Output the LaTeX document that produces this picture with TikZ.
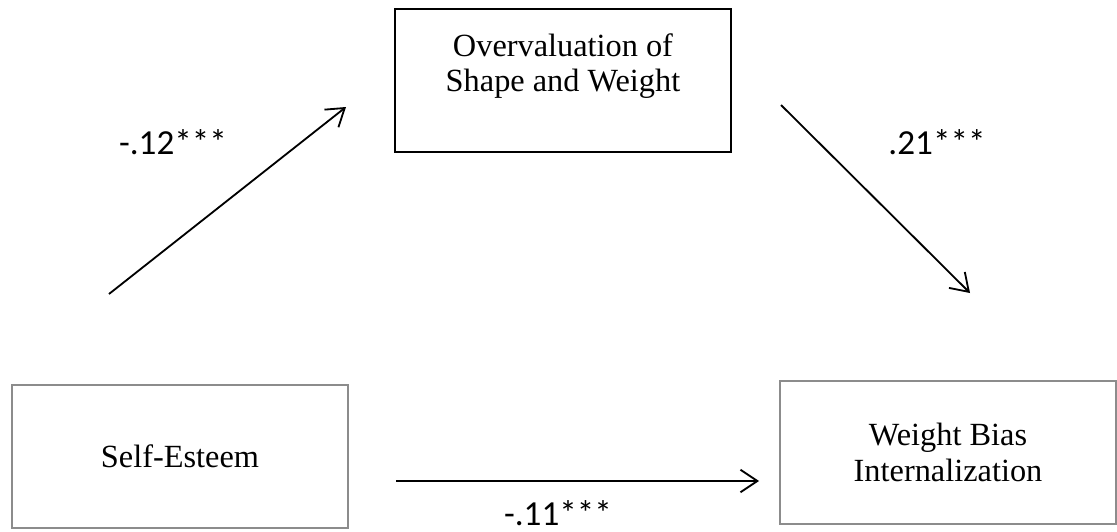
\documentclass[tikz,border=0pt]{standalone}
\usepackage{fontspec}
\setmainfont{Liberation Serif}
\newfontfamily\coeffont{Carlito}
\usetikzlibrary{arrows.meta,positioning}

\begin{document}
\begin{tikzpicture}[
        x=0.025cm, y=-0.025cm,
        >={Straight Barb[length=12pt,width=16pt]},
        every node/.style={align=center},
        var/.style={draw, minimum width=8.4cm, minimum height=3.575cm, inner sep=0pt, font=\fontsize{23}{25}\selectfont},
        mediator/.style={var, line width=2pt},
        outer/.style={var, draw=black!45, line width=0.8pt},
        coef/.style={font=\coeffont\fontsize{25}{28}\selectfont, anchor=base},
        effect/.style={->, line width=1.3pt}
    ]
        \useasboundingbox (0,0) rectangle (1117,532);

        \node[mediator] (ovr) at (563,80.5) {Overvaluation of\\Shape and Weight\\ \mbox{}};
        \node[outer] (se) at (180,456.5) {Self-Esteem};
        \node[outer] (wbi) at (948,452.5) {Weight Bias\\Internalization};

        \coordinate (aS) at (109,294);
        \coordinate (aE) at (346,107);
        \coordinate (bS) at (781,105);
        \coordinate (bE) at (970,293);
        \coordinate (cS) at (396,481);
        \coordinate (cE) at (759,481);

        \draw[effect] (aS) -- (aE);
        \draw[effect] (bS) -- (bE);
        \draw[effect] (cS) -- (cE);

        \node[coef] (ca) at (173,154) {-.12***};
        \node[coef] (cb) at (937,154) {.21***};
        \node[coef] (cc) at (558,525) {-.11***};
\end{tikzpicture}
\end{document}
